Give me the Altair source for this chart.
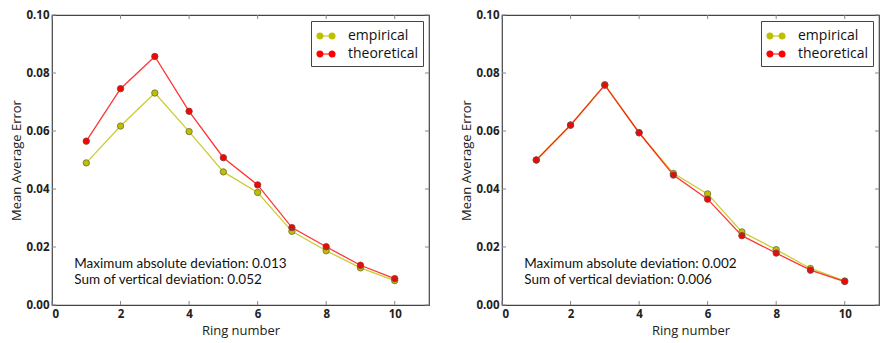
import altair as alt
import pandas as pd

rings = [1, 2, 3, 4, 5, 6, 7, 8, 9, 10]
emp_left = [0.0490, 0.0617, 0.0731, 0.0598, 0.0459, 0.0388, 0.0254, 0.0187, 0.0128, 0.0084]
theo_left = [0.0565, 0.0746, 0.0857, 0.0668, 0.0508, 0.0414, 0.0267, 0.0201, 0.0137, 0.0091]
emp_right = [0.0500, 0.0621, 0.0760, 0.0594, 0.0454, 0.0383, 0.0252, 0.0191, 0.0126, 0.0083]
theo_right = [0.0500, 0.0620, 0.0758, 0.0594, 0.0448, 0.0365, 0.0239, 0.0179, 0.0120, 0.0081]
series = ["empirical", "theoretical"]
colors = ["#bfbf00", "#ff0000"]
ann_left = ["Maximum absolute deviation: 0.013", "Sum of vertical deviation: 0.052"]
ann_right = ["Maximum absolute deviation: 0.002", "Sum of vertical deviation: 0.006"]
ann_x = 0.65
ann_y = [0.0142, 0.0085]
x_ticks = [0, 2, 4, 6, 8, 10]
y_ticks = [0.0, 0.02, 0.04, 0.06, 0.08, 0.10]

SYMBOL = ("M-0.67,0L0.67,0"
          "M-1,0A0.33,0.33 0 1,0 -0.34,0A0.33,0.33 0 1,0 -1,0Z"
          "M0.34,0A0.33,0.33 0 1,0 1,0A0.33,0.33 0 1,0 0.34,0Z")

AXFONT = "Open Sans"
W, H, TK = 377, 290, 4


def panel(emp, theo, ann):
    df = pd.DataFrame({
        "ring": rings * 2,
        "value": emp + theo,
        "series": [series[0]] * len(rings) + [series[1]] * len(rings),
    })
    xs = alt.Scale(domain=[0, 11], nice=False)
    ys = alt.Scale(domain=[0, 0.1], nice=False)
    x = alt.X("ring:Q", scale=xs,
              axis=alt.Axis(values=x_ticks, title="Ring number", grid=False, format="d",
                            titlePadding=5))
    y = alt.Y("value:Q", scale=ys,
              axis=alt.Axis(values=y_ticks, title="Mean Average Error", grid=False, format=".2f",
                            titlePadding=2))
    color_scale = alt.Scale(domain=series, range=colors)
    leg = alt.Legend(title=None, orient="top-right", symbolType=SYMBOL,
                     symbolSize=324, labelFontSize=14, labelFont=AXFONT,
                     labelColor="#111", strokeColor="#444", fillColor="white",
                     padding=5, offset=6, rowPadding=1, symbolStrokeWidth=1.2,
                     symbolOpacity=1, labelOffset=12)
    base = alt.Chart(df)
    lines = base.mark_line(strokeWidth=1.3, opacity=0.8).encode(
        x=x, y=y, color=alt.Color("series:N", scale=color_scale, legend=None),
        detail="series:N")
    pts = base.mark_point(filled=True, size=40, opacity=1, strokeWidth=0.5).encode(
        x=x, y=y,
        fill=alt.Fill("series:N", scale=color_scale, legend=leg),
        stroke=alt.Stroke("series:N", scale=color_scale, legend=leg))
    edges = base.mark_point(filled=False, size=40, opacity=1, stroke="#555555",
                            strokeWidth=0.6).encode(x=x, y=y)
    tdf = pd.DataFrame({"x": [ann_x, ann_x], "y": ann_y, "t": ann})
    txt = alt.Chart(tdf).mark_text(align="left", baseline="middle", fontSize=13.5,
                                   font="Lato", color="#111").encode(
        x=alt.X("x:Q", scale=xs), y=alt.Y("y:Q", scale=ys), text="t:N")
    xt = alt.Chart(pd.DataFrame({"t": x_ticks}))
    yt = alt.Chart(pd.DataFrame({"t": y_ticks}))
    tick_style = dict(color="#888", strokeWidth=1)
    xt_bot = xt.mark_rule(**tick_style).encode(
        x=alt.X("t:Q", scale=xs), y=alt.value(H), y2=alt.value(H - TK))
    xt_top = xt.mark_rule(**tick_style).encode(
        x=alt.X("t:Q", scale=xs), y=alt.value(0), y2=alt.value(TK))
    yt_left = yt.mark_rule(**tick_style).encode(
        y=alt.Y("t:Q", scale=ys), x=alt.value(0), x2=alt.value(TK))
    yt_right = yt.mark_rule(**tick_style).encode(
        y=alt.Y("t:Q", scale=ys), x=alt.value(W), x2=alt.value(W - TK))
    return alt.layer(xt_bot, xt_top, yt_left, yt_right, lines, pts, edges, txt).properties(
        width=W, height=H)


chart = alt.hconcat(panel(emp_left, theo_left, ann_left),
                    panel(emp_right, theo_right, ann_right), spacing=29).resolve_legend(
    fill="independent", stroke="independent").properties(
    padding={"left": 2, "top": 0, "right": 0, "bottom": 0}).configure_view(
    stroke="#444", strokeWidth=1.2).configure_axis(
    domain=False, ticks=False, labelFont=AXFONT, labelFontSize=11.5, labelFontWeight="bold",
    labelColor="#222", titleFont=AXFONT, titleFontSize=13, titleFontWeight="normal",
    titleColor="#222", labelPadding=3)

chart.save("out.html", embed_options={"renderer": "svg", "actions": False})
